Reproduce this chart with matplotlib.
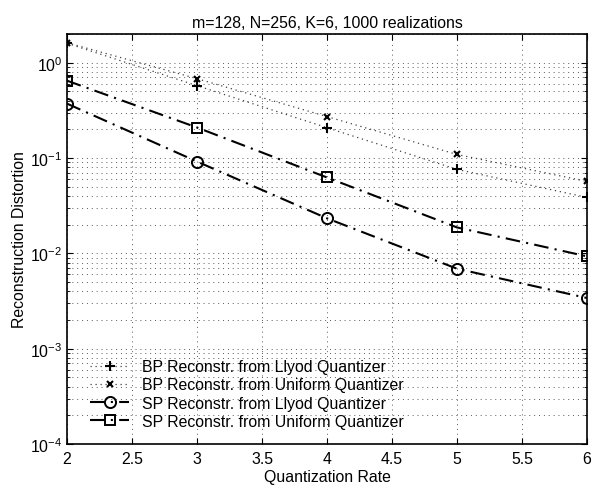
import numpy as np
import matplotlib
matplotlib.use("Agg")
from matplotlib import pyplot as plt
from matplotlib.ticker import MultipleLocator, LogLocator, NullFormatter

plt.rcParams['font.family'] = ['Liberation Sans', 'DejaVu Sans']
plt.rcParams['mathtext.fontset'] = 'custom'
plt.rcParams['mathtext.rm'] = 'Liberation Sans'

# data
rates = [2, 3, 4, 5, 6]
bp_lloyd = [1.60, 0.574, 0.208, 0.076, 0.0386]
bp_uniform = [1.62, 0.68, 0.272, 0.109, 0.0568]
sp_lloyd = [0.372, 0.0918, 0.0233, 0.0069, 0.0034]
sp_uniform = [0.648, 0.209, 0.0625, 0.0187, 0.0093]

labels = ["BP Reconstr. from Llyod Quantizer",
          "BP Reconstr. from Uniform Quantizer",
          "SP Reconstr. from Llyod Quantizer",
          "SP Reconstr. from Uniform Quantizer"]

fs = 11.4

fig = plt.figure(figsize=(5.93, 4.89), dpi=100)
ax = fig.add_axes([67 / 593, 44 / 489, 520 / 593, 410 / 489])

dotted = (0, (1, 3))
dashdot = (0, (7, 3, 1, 3))
ax.semilogy(rates, bp_lloyd, color='0.25', linestyle=dotted, linewidth=0.9,
            marker='+', markersize=7, markeredgewidth=1.5, markeredgecolor='k',
            label=labels[0])
ax.semilogy(rates, bp_uniform, color='0.25', linestyle=dotted, linewidth=0.9,
            marker='x', markersize=5, markeredgewidth=1.5, markeredgecolor='k',
            label=labels[1])
ax.semilogy(rates, sp_lloyd, color='k', linestyle=dashdot, linewidth=1.5,
            marker='o', markersize=8, markerfacecolor='none', markeredgewidth=1.4,
            label=labels[2])
ax.semilogy(rates, sp_uniform, color='k', linestyle=dashdot, linewidth=1.5,
            marker='s', markersize=7, markerfacecolor='none', markeredgewidth=1.4,
            label=labels[3])

ax.set_xlim(2, 6)
ax.set_ylim(1e-4, 2)
ax.xaxis.set_major_locator(MultipleLocator(0.5))
ax.xaxis.set_major_formatter(matplotlib.ticker.FuncFormatter(lambda v, p: f"{v:g}"))
ax.yaxis.set_major_locator(LogLocator(base=10, numticks=10))
ax.yaxis.set_minor_locator(LogLocator(base=10, subs=np.arange(2, 10), numticks=20))
ax.yaxis.set_minor_formatter(NullFormatter())

ax.grid(True, which='major', linestyle=(0, (1, 4)), color='0.35', linewidth=0.7)
ax.grid(True, which='minor', axis='y', linestyle=(0, (1, 4)), color='0.35', linewidth=0.7)

ax.tick_params(which='both', direction='in', top=True, right=True, labelsize=fs)
ax.tick_params(axis='x', pad=5)
ax.tick_params(which='major', length=4)
ax.tick_params(which='minor', length=2)
for s in ax.spines.values():
    s.set_linewidth(1.2)

ax.set_xlabel("Quantization Rate", fontsize=fs, labelpad=2)
ax.set_ylabel("Reconstruction Distortion", fontsize=fs, labelpad=2)
ax.set_title("m=128, N=256, K=6, 1000 realizations", fontsize=fs, pad=5)

ax.legend(loc='lower left', bbox_to_anchor=(0.044, 0.037), frameon=False,
          fontsize=fs, handlelength=2.5, handletextpad=0.8,
          labelspacing=0.2, borderaxespad=0, borderpad=0)

fig.savefig("out.png", dpi=100)
